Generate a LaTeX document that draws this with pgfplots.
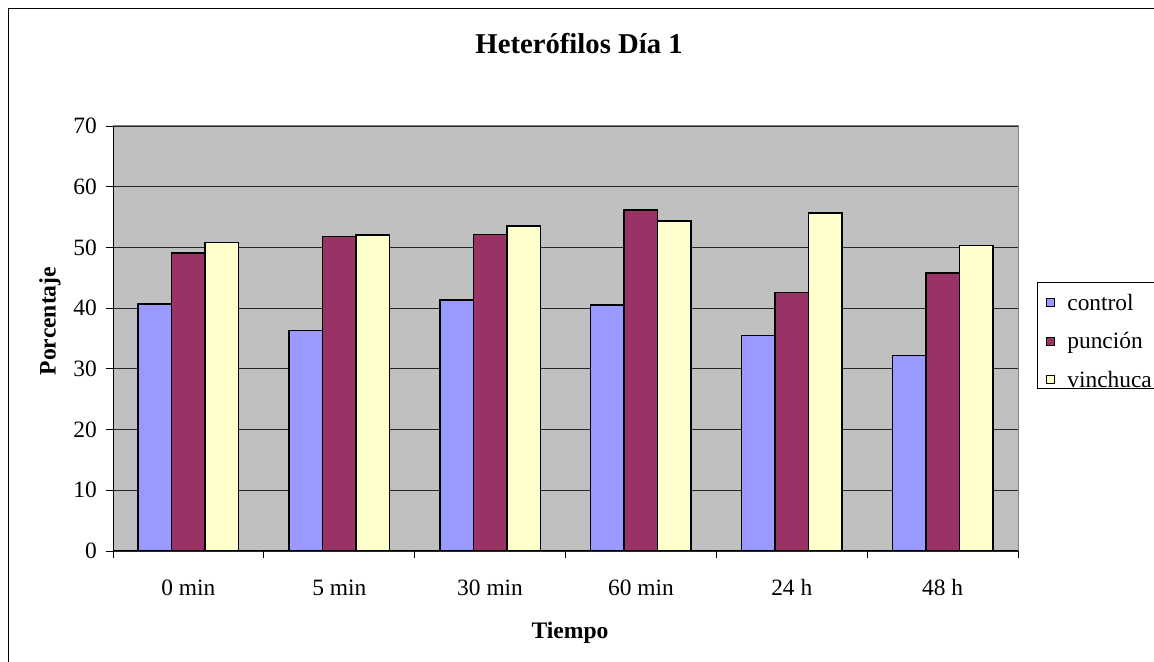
\documentclass[border=0pt]{standalone}
\usepackage{fontspec}
\setmainfont{Liberation Serif}
\usepackage{pgfplots}
\pgfplotsset{compat=1.18}
\definecolor{ctrl}{HTML}{9999FF}
\definecolor{punc}{HTML}{993366}
\definecolor{vinc}{HTML}{FFFFCC}
\definecolor{plotbg}{HTML}{C0C0C0}
\definecolor{frameg}{HTML}{808080}
\begin{document}
\begin{tikzpicture}[x=1bp,y=1bp]
\begin{axis}[
  at={(113bp,111bp)}, anchor=south west,
  scale only axis, width=905bp, height=425bp,
  xmin=-0.5, xmax=5.5, ymin=0, ymax=70,
  ybar=0pt, bar width=33.5bp,
  axis background/.style={fill=plotbg},
  axis line style={draw=frameg, line width=1bp},
  tick pos=left, tick align=outside,
  major tick length=7bp,
  tick style={draw=black, line width=0.9bp},
  xtick={-0.5,0.5,...,5.5}, xticklabels={},
  extra x ticks={0,1,2,3,4,5},
  extra x tick labels={0 min,5 min,30 min,60 min,24 h,48 h},
  extra x tick style={major tick length=0bp, grid=none},
  ytick={0,10,...,70},
  ymajorgrids,
  major grid style={draw=black!85, line width=0.9bp},
  ticklabel style={font=\fontsize{23.5}{28}\selectfont},
  /pgf/number format/assume math mode=true,
  yticklabel style={anchor=east, inner sep=0pt, xshift=-9bp},
  xticklabel style={anchor=base, inner sep=0pt, yshift=-45bp},
  title={Heterófilos Día 1},
  title style={at={(0.515,1.179)}, anchor=center, font=\fontsize{28.8}{34}\selectfont\bfseries},
  xlabel={Tiempo},
  xlabel style={at={(0.505,-0.193)}, anchor=center, font=\fontsize{23.7}{28}\selectfont\bfseries},
  ylabel={Porcentaje},
  ylabel style={at={(-0.0696,0.541)}, anchor=center, font=\fontsize{23.7}{28}\selectfont\bfseries},
  legend style={at={(1.021,0.633)}, anchor=north west, draw=black, line width=0.9bp, fill=white,
    font=\fontsize{23.5}{28}\selectfont, inner xsep=9bp, inner ysep=1bp,
    nodes={inner sep=0pt, text height=27bp, text depth=0bp}, row sep=11.5bp,
    /tikz/every odd column/.append style={column sep=12bp}},
  legend cell align=left,
  legend image code/.code={\draw[#1, line width=0.9bp] (0bp,-10bp) rectangle (8bp,-2bp);},
]
\addplot[fill=ctrl, draw=black, line width=1.6bp] coordinates {(0,40.7) (1,36.3) (2,41.3) (3,40.5) (4,35.5) (5,32.2)};
\addplot[fill=punc, draw=black, line width=1.6bp] coordinates {(0,49.1) (1,51.8) (2,52.1) (3,56.2) (4,42.6) (5,45.8)};
\addplot[fill=vinc, draw=black, line width=1.6bp] coordinates {(0,50.8) (1,52.0) (2,53.5) (3,54.4) (4,55.7) (5,50.3)};
\legend{control,punción,vinchuca}
\draw[black, line width=1bp] (rel axis cs:0,0) -- (rel axis cs:0,1);
\draw[black, line width=1bp] (rel axis cs:0,0) -- (rel axis cs:1,0);
\end{axis}
\draw[black, line width=1.3bp] (8.5,-5) -- (8.5,653.5) -- (1160,653.5);
\pgfresetboundingbox
\useasboundingbox (0,0) rectangle (1154,662);
\end{tikzpicture}
\end{document}
